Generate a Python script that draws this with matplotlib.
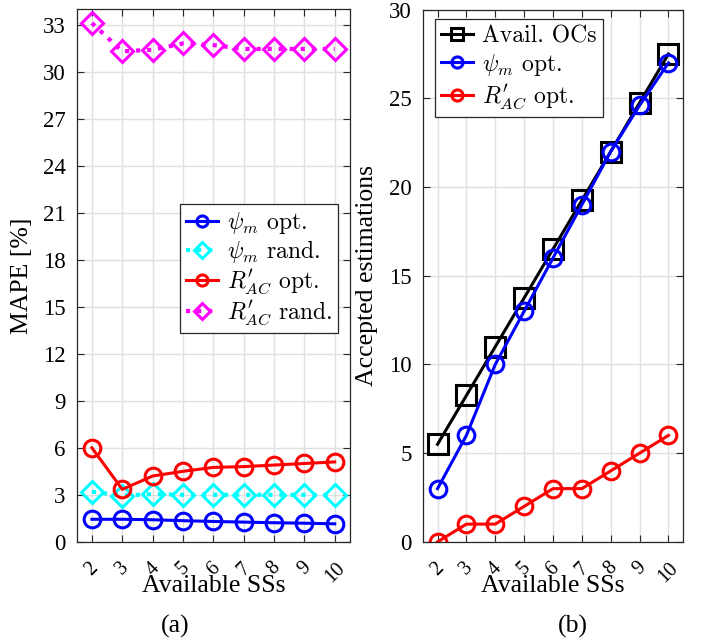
import matplotlib
matplotlib.use('Agg')
import matplotlib.pyplot as plt

# Data
ss = [2, 3, 4, 5, 6, 7, 8, 9, 10]

# (a) MAPE [%]
psi_opt = [1.44, 1.44, 1.41, 1.35, 1.30, 1.26, 1.22, 1.19, 1.15]
psi_rand = [3.2, 2.95, 3.05, 3.0, 3.0, 3.0, 3.0, 3.0, 3.0]
rac_opt = [6.0, 3.35, 4.2, 4.5, 4.75, 4.8, 4.9, 5.0, 5.1]
rac_rand = [33.1, 31.3, 31.4, 31.8, 31.7, 31.45, 31.45, 31.45, 31.45]

# (b) Accepted estimations
avail_ocs = [5.5, 8.25, 11, 13.75, 16.5, 19.25, 22, 24.75, 27.5]
psi_acc = [3, 6, 10, 13, 16, 19, 22, 24.6, 27]
rac_acc = [0, 1, 1, 2, 3, 3, 4, 5, 6]

plt.rcParams['font.family'] = ['Liberation Serif', 'DejaVu Serif']
plt.rcParams['mathtext.fontset'] = 'cm'

fig = plt.figure(figsize=(7.04, 6.42), dpi=100)
ax1 = fig.add_axes([0.109, 0.156, 0.388, 0.830])
ax2 = fig.add_axes([0.601, 0.156, 0.369, 0.829])

mk = dict(markersize=12, markeredgewidth=2.2, markerfacecolor='none', linewidth=2.2)
dmk = dict(markersize=11, markeredgewidth=2.2, markerfacecolor='none', linewidth=3)

psi_lbl = r'$\psi_m$ opt.'
psi_rlbl = r'$\psi_m$ rand.'
rac_lbl = r'$R^{\prime}_{AC}$ opt.'
rac_rlbl = r'$R^{\prime}_{AC}$ rand.'

ax1.plot(ss, psi_opt, '-o', color='#0000ff', label=psi_lbl, **mk)
ax1.plot(ss, psi_rand, ':D', color='#00ffff', label=psi_rlbl, **dmk)
ax1.plot(ss, rac_opt, '-o', color='#ff0000', label=rac_lbl, **mk)
ax1.plot(ss, rac_rand, ':D', color='#ff00ff', label=rac_rlbl, **dmk)
ax1.set_ylim(0, 34)
ax1.set_yticks(range(0, 34, 3))
ax1.set_ylabel('MAPE [%]', fontsize=18.5)
ax1.yaxis.set_label_coords(-0.161, 0.5)

ax2.plot(ss, avail_ocs, '-s', color='black', label='Avail. OCs',
         **{**mk, 'markersize': 15})
ax2.plot(ss, psi_acc, '-o', color='#0000ff', label=psi_lbl, **mk)
ax2.plot(ss, rac_acc, '-o', color='#ff0000', label=rac_lbl, **mk)
ax2.set_ylim(0, 30)
ax2.set_yticks(range(0, 31, 5))
ax2.set_ylabel('Accepted estimations', fontsize=18.5)
ax2.yaxis.set_label_coords(-0.173, 0.5)

for ax in (ax1, ax2):
    ax.set_xlim(1.5, 10.5)
    ax.set_xticks(ss)
    ax.set_xticklabels([str(v) for v in ss], rotation=45, ha='center')
    ax.tick_params(direction='in', top=True, right=True, labelsize=16.5,
                   length=5, width=0.8, colors='#262626', labelcolor='black')
    ax.tick_params(axis='x', pad=12, labelsize=14.5)
    ax.tick_params(axis='y', pad=8)
    ax.grid(True, color='#e0e0e0', linewidth=1)
    ax.set_axisbelow(True)
    for s in ax.spines.values():
        s.set_color('#262626')
        s.set_linewidth(0.9)
    ax.set_xlabel('Available SSs', fontsize=18.5)
    ax.xaxis.set_label_coords(0.5, -0.062)

fig.text(175 / 704, 1 - 626 / 642, '(a)', ha='center', va='center', fontsize=18.5)
fig.text(573 / 704, 1 - 626 / 642, '(b)', ha='center', va='center', fontsize=18.5)

leg_kw = dict(prop={'family': 'cmr10', 'size': 17}, fancybox=False, framealpha=1,
              edgecolor='#262626', handlelength=1.35, handletextpad=0.4,
              borderpad=0.25, borderaxespad=0,
              loc='upper left', bbox_transform=fig.transFigure)
leg1 = ax1.legend(bbox_to_anchor=(180 / 704, 1 - 204 / 642), labelspacing=0.1, **leg_kw)
leg2 = ax2.legend(bbox_to_anchor=(435 / 704, 1 - 19 / 642), labelspacing=0.2, **leg_kw)
for leg in (leg1, leg2):
    leg.get_frame().set_linewidth(0.9)
    for h in leg.legend_handles:
        h.set_markersize(8)

fig.savefig('out.png', dpi=100)
